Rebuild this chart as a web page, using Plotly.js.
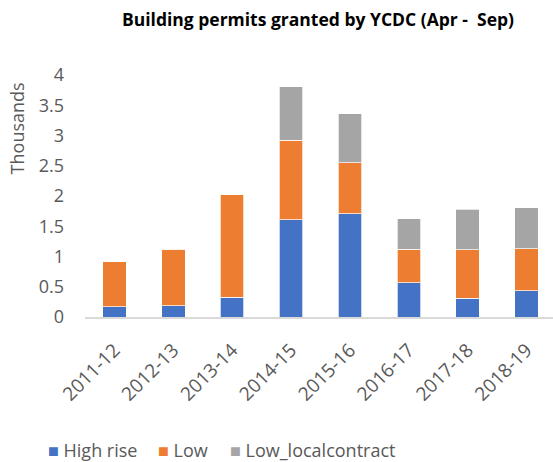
<!DOCTYPE html>
<html>
<head>
<meta charset="utf-8">
<script src="https://cdn.plot.ly/plotly-3.0.1.min.js"></script>
<style>html,body{margin:0;padding:0;background:#fff;}</style>
</head>
<body>
<div id="chart" style="width:553px;height:462px;"></div>
<script>
var categories = ["2011-12","2012-13","2013-14","2014-15","2015-16","2016-17","2017-18","2018-19"];
var highRise = [0.17, 0.19, 0.33, 1.61, 1.71, 0.57, 0.31, 0.43];
var low = [0.74, 0.93, 1.69, 1.31, 0.84, 0.55, 0.80, 0.70];
var lowLocal = [0, 0, 0, 0.89, 0.81, 0.50, 0.67, 0.68];
var yTicks = [0, 0.5, 1, 1.5, 2, 2.5, 3, 3.5, 4];
var seriesNames = ["High rise", "Low", "Low_localcontract"];
var seriesColors = ["#4472C4", "#ED7D31", "#A5A5A5"];

var font = "Open Sans, sans-serif";
var edge = {color: "rgba(255,255,255,0.7)", width: 1};
var values = [highRise, low, lowLocal];
var traces = values.map(function (v, i) {
  return {type: "bar", name: seriesNames[i], x: categories, y: v,
          marker: {color: seriesColors[i], line: edge}, showlegend: false};
});

// legend drawn as text annotations (colored square glyph + name)
var legendX = [-0.083, 0.152, 0.305];
var legendAnn = seriesNames.map(function (n, i) {
  return {
    text: "<span style='color:" + seriesColors[i] + "'>\u25A0</span> " + n,
    xref: "paper", yref: "paper", x: legendX[i], y: -0.55,
    xanchor: "left", yanchor: "middle", showarrow: false,
    font: {family: font, size: 18, color: "#595959"}
  };
});

var layout = {
  width: 553, height: 462,
  margin: {l: 85, r: 0, t: 75, b: 145},
  barmode: "stack",
  bargap: 0.6,
  paper_bgcolor: "#ffffff",
  plot_bgcolor: "#ffffff",
  font: {family: font, color: "#595959"},
  title: {
    text: "<b>Building permits granted by YCDC (Apr -\u00a0 Sep)</b>",
    font: {family: font, size: 17.5, color: "#000000"},
    x: 0.575, xanchor: "center", xref: "container",
    y: 0.957, yanchor: "middle", yref: "container"
  },
  xaxis: {
    type: "category",
    range: [-0.5, 7.45],
    tickangle: -45,
    tickfont: {family: font, size: 19, color: "#595959"},
    showline: true, linecolor: "#d9d9d9", linewidth: 1.5,
    ticks: "", showgrid: false, zeroline: false,
    ticklabelstandoff: 13
  },
  yaxis: {
    range: [0, 4],
    tickvals: yTicks,
    ticktext: yTicks.map(String),
    tickfont: {family: font, size: 18, color: "#595959"},
    showgrid: false, zeroline: false, showline: false, ticks: "",
    ticklabelstandoff: 20
  },
  annotations: [{
    text: "Thousands",
    xref: "paper", yref: "paper",
    x: -0.145, y: 0.78,
    xanchor: "center", yanchor: "middle",
    textangle: -90, showarrow: false,
    font: {family: font, size: 18, color: "#595959"}
  }].concat(legendAnn),
  showlegend: false
};

Plotly.newPlot("chart", traces, layout, {displayModeBar: false, staticPlot: true});
</script>
</body>
</html>
